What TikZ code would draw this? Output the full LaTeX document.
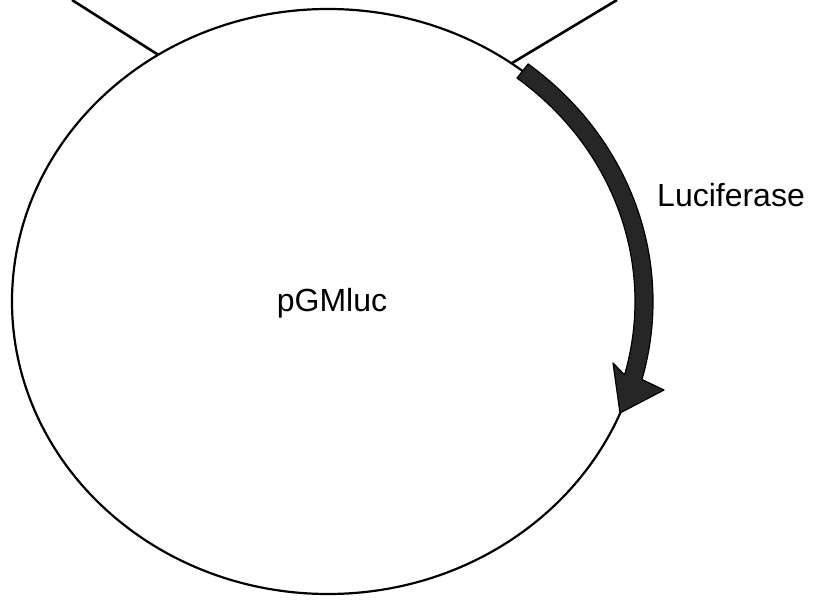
\documentclass[tikz,border=0pt]{standalone}
\usepackage{fontspec}
\setmainfont{Liberation Sans}
\usetikzlibrary{positioning, calc}

\begin{document}
\begin{tikzpicture}[
    x=1pt, y=1pt,
    plasmid/.style={draw, line width=2.2pt},
    site/.style={draw, line width=2.6pt},
    gene/.style={fill=black!85, draw=black, line width=1.2pt, line join=round},
    label/.style={font=\fontsize{32}{36}\selectfont, inner sep=0pt}
]
\useasboundingbox (0,0) rectangle (818,600);
\coordinate (c) at (328,298.5);

% plasmid backbone
\draw[plasmid] (c) ellipse [x radius=316, y radius=292.5];
\node[label, anchor=base] (name) at (332,288) {pGMluc};

% cut sites
\coordinate (siteL) at ($(c)+(122.5:316 and 292.5)$);
\coordinate (siteLend) at (72,600);
\coordinate (siteR) at ($(c)+(54.5:316 and 292.5)$);
\coordinate (siteRend) at (617,600);
\draw[site] (siteL) -- (siteLend);
\draw[site] (siteR) -- (siteRend);

% luciferase gene
\filldraw[gene] ($(c)+(52:325 and 301.5)$)
    arc[start angle=52, end angle=-15, x radius=325, y radius=301.5]
    -- (664,210) -- (620,187) -- (613,237)
    -- ($(c)+(-15:307 and 283.5)$)
    arc[start angle=-15, end angle=52, x radius=307, y radius=283.5] -- cycle;
\node[label, anchor=base west] (luc) at (657,393) {Luciferase};
\end{tikzpicture}
\end{document}
